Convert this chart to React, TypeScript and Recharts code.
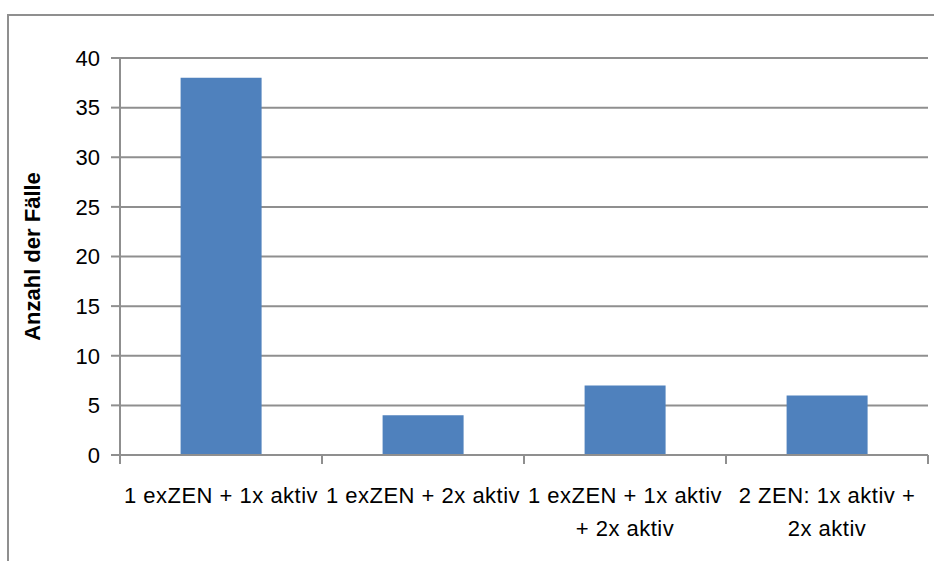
import React from 'react';
import { BarChart, Bar, XAxis, YAxis, CartesianGrid } from 'recharts';

const categories: string[][] = [
  ['1 exZEN + 1x aktiv'],
  ['1 exZEN + 2x aktiv'],
  ['1 exZEN + 1x aktiv', '+ 2x aktiv'],
  ['2 ZEN: 1x aktiv +', '2x aktiv'],
];
const values: number[] = [38, 4, 7, 6];
const yTicks: number[] = [0, 5, 10, 15, 20, 25, 30, 35, 40];
const yTitle = 'Anzahl der Fälle';

const data = categories.map((c, i) => ({ name: c.join(' '), lines: c, value: values[i] }));

const FONT = '"Liberation Sans", Arial, sans-serif';
const GRID = '#8f8f8f';

const XTick = (props: any) => {
  const { x, y, payload, index } = props;
  const off = payload && payload.offset ? payload.offset : 101;
  const lines: string[] = data[index] ? data[index].lines : [String(payload.value)];
  const last = index === data.length - 1;
  return (
    <g>
      <line x1={x - off} y1={y} x2={x - off} y2={y + 9} stroke={GRID} strokeWidth={2} />
      {last && <line x1={x + off} y1={y} x2={x + off} y2={y + 9} stroke={GRID} strokeWidth={2} />}
      {lines.map((l, i) => (
        <text key={i} x={x} y={y + 48 + i * 33} textAnchor="middle" fontFamily={FONT} fontSize={22} letterSpacing={0.5} fill="#000">
          {l}
        </text>
      ))}
    </g>
  );
};

const YTitle = (props: any) => {
  const vb = props.viewBox || { x: 0, y: 58, width: 120, height: 397 };
  const cx = 32;
  const cy = vb.y + vb.height / 2;
  return (
    <text x={cx} y={cy} transform={`rotate(-90, ${cx}, ${cy})`} textAnchor="middle" dominantBaseline="central"
      fontFamily={FONT} fontSize={22} fontWeight="bold" fill="#000">
      {yTitle}
    </text>
  );
};

export default function App() {
  return (
    <div style={{ position: 'fixed', left: 0, top: 0, width: 934, height: 561, background: '#fff' }}>
      <div style={{ position: 'absolute', left: 7, top: 14, width: 927, height: 547, borderTop: `2px solid ${GRID}`, borderLeft: `2px solid ${GRID}`, boxSizing: 'border-box' }} />
      <BarChart
        width={934}
        height={561}
        data={data}
        margin={{ top: 58, right: 6, bottom: 6, left: 0 }}
        barCategoryGap="30%"
        style={{ position: 'absolute', left: 0, top: 0 }}
      >
        <CartesianGrid vertical={false} stroke={GRID} strokeWidth={2} />
        <XAxis
          dataKey="name"
          height={100}
          tickLine={false}
          tickSize={0}
          tickMargin={0}
          axisLine={{ stroke: GRID, strokeWidth: 2 }}
          tick={<XTick />}
          interval={0}
        />
        <YAxis
          width={120}
          domain={[0, 40]}
          ticks={yTicks}
          interval={0}
          tickSize={9}
          tickMargin={11}
          tickLine={{ stroke: GRID, strokeWidth: 2 }}
          axisLine={{ stroke: GRID, strokeWidth: 2 }}
          tick={{ fontFamily: FONT, fontSize: 22, fill: '#000' }}
          label={{ content: <YTitle /> }}
        />
        <Bar dataKey="value" fill="#4F81BD" isAnimationActive={false} />
      </BarChart>
    </div>
  );
}
